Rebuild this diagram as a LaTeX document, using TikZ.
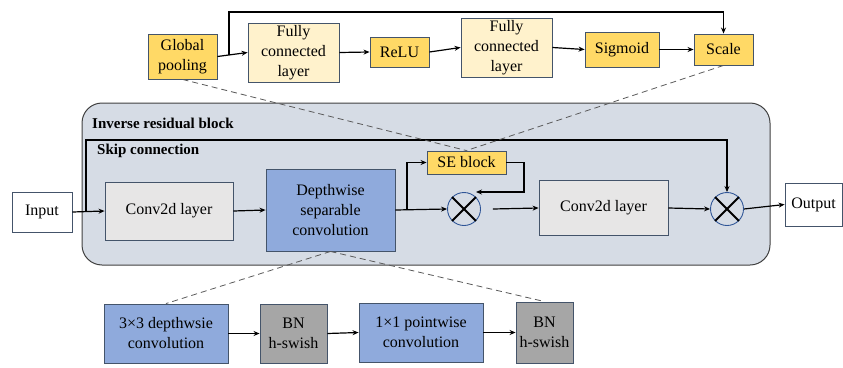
\documentclass[tikz,border=0pt]{standalone}
\usepackage{fontspec}
\setmainfont{Liberation Serif}
\newfontfamily\tms{Liberation Serif}
\usetikzlibrary{arrows.meta,calc}
\definecolor{ydark}{HTML}{FFD966}
\definecolor{ylight}{HTML}{FFF2CC}
\definecolor{bord}{HTML}{44546A}
\definecolor{bluebox}{HTML}{8FAADC}
\definecolor{graybox}{HTML}{A6A6A6}
\definecolor{lgray}{HTML}{E7E6E6}
\definecolor{blockbg}{HTML}{D6DCE5}
\definecolor{circb}{HTML}{2F5597}
\tikzset{
  box/.style={draw=bord, line width=0.9pt, align=center, inner sep=0pt,
    font=\tms\fontsize{16}{20}\selectfont},
  arr/.style={line width=1.2pt, -{Stealth[length=6pt,width=5pt]}},
  dsh/.style={draw=black!65, line width=0.8pt, dash pattern=on 6pt off 4pt},
  mult/.style={circle, draw=circb, line width=0.9pt, fill=blockbg, minimum size=33pt, inner sep=0pt},
  blab/.style={font=\tms\fontsize{15}{18}\selectfont\bfseries, anchor=west, inner sep=0pt}
}
\begin{document}
\begin{tikzpicture}[x=1pt,y=-1pt]
\useasboundingbox (0,0) rectangle (843,367);
% block
\node[draw=black!75, line width=1pt, fill=blockbg, rounded corners=20pt,
  minimum width=688pt, minimum height=162pt, inner sep=0pt] (irb) at (426,184) {};
\node[blab] (lab1) at (92,123) {Inverse residual block};
\node[blab] (lab2) at (97,151) {Skip connection};
% top row
\node[box, fill=ydark, minimum width=69pt, minimum height=45pt] (gp) at (182.5,56.5) {Global\\pooling};
\node[box, fill=ylight, minimum width=91pt, minimum height=59pt] (fc1) at (293.5,52.5) {Fully\\connected\\layer};
\node[box, fill=ydark, minimum width=59pt, minimum height=30pt] (relu) at (399.5,52) {ReLU};
\node[box, fill=ylight, minimum width=91pt, minimum height=59pt] (fc2) at (506.5,47.5) {Fully\\connected\\layer};
\node[box, fill=ydark, minimum width=74pt, minimum height=35pt] (sig) at (622,49.5) {Sigmoid};
\node[box, fill=ydark, minimum width=59pt, minimum height=31pt] (scale) at (723.5,49.5) {Scale};
\draw[arr] (gp.east) -- (fc1.west);
\draw[arr] (fc1.east) -- (relu.west);
\draw[arr] (relu.east) -- (fc2.west);
\draw[arr] (fc2.east) -- (sig.west);
\draw[arr] (sig.east) -- (scale.west);
\coordinate (j1) at (229,54.5);
\coordinate (tb) at (229,12);
\draw[arr] (j1) -- (tb) -| (scale.north);
% middle row
\node[box, fill=white, minimum width=60pt, minimum height=40pt] (in) at (42,212) {Input};
\node[box, fill=lgray, minimum width=128pt, minimum height=58pt] (conv1) at (169,211) {Conv2d layer};
\node[box, fill=bluebox, minimum width=129pt, minimum height=82pt] (dsc) at (330.5,210) {Depthwise\\separable\\convolution};
\node[box, fill=ydark, minimum width=79pt, minimum height=23pt] (se) at (466.5,162.5) {SE block};
\node[mult] (c1) at (464,209) {};
\node[box, fill=lgray, minimum width=129pt, minimum height=55pt] (conv2) at (603.5,208) {Conv2d layer};
\node[mult] (c2) at (727,209) {};
\node[box, fill=white, minimum width=57pt, minimum height=43pt] (out) at (813.5,204.5) {Output};
\foreach \c in {c1,c2}{
  \draw[line width=1.8pt] (\c.north west) -- (\c.south east);
  \draw[line width=1.8pt] (\c.north east) -- (\c.south west);
}
\draw[arr] (in.east) -- (conv1.west);
\draw[arr] (conv1.east) -- (dsc.west);
\draw[arr] (dsc.east) -- (c1.west);
\coordinate (br) at (407,210);
\draw[arr] (br) |- (se.west);
\coordinate (sec) at (524,192);
\draw[arr] (se.east) -| (sec) -- (sec -| c1.north east);
\draw[arr] ([xshift=12pt]c1.east) -- (conv2.west);
\draw[arr] (conv2.east) -- (c2.west);
\draw[arr] (c2.east) -- (out.west);
\coordinate (sk) at (86,211.5);
\coordinate (skt) at (86,140);
\draw[arr] (sk) -- (skt) -| (c2.north);
% bottom row
\node[box, fill=bluebox, minimum width=124pt, minimum height=59pt] (b1) at (166,333.5) {3×3 depthwsie\\convolution};
\node[box, fill=graybox, minimum width=67pt, minimum height=59pt] (b2) at (293.5,333.5) {BN\\h-swish};
\node[box, fill=bluebox, minimum width=124pt, minimum height=59pt] (b3) at (421,332.5) {1×1 pointwise\\convolution};
\node[box, fill=graybox, minimum width=57pt, minimum height=61pt] (b4) at (544.5,332.5) {BN\\h-swish};
\draw[arr] (b1.east) -- (b2.west);
\draw[arr] (b2.east) -- (b3.west);
\draw[arr] (b3.east) -- (b4.west);
% dashed
\draw[dsh] (gp.south) -- (se.north);
\draw[dsh] (scale.south) -- (se.north);
\draw[dsh] (dsc.south) -- (b1.north);
\draw[dsh] (dsc.south) -- (b4.north);
\end{tikzpicture}
\end{document}
